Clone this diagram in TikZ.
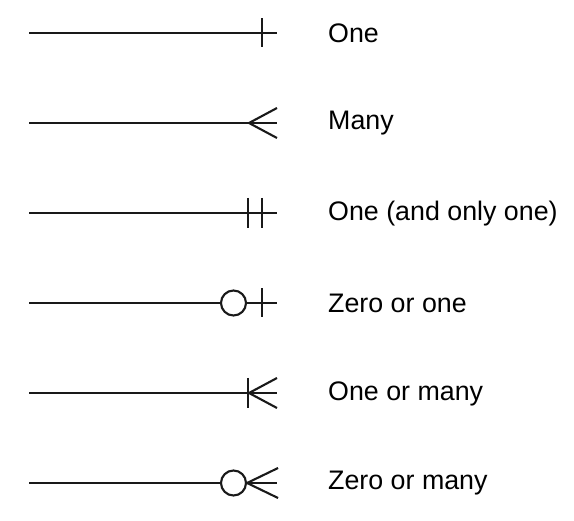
\documentclass[tikz,border=0pt]{standalone}
\usepackage{fontspec}
\setmainfont{Liberation Sans}
\begin{document}
\begin{tikzpicture}[x=1pt,y=-1pt,
  conn/.style={line width=2.1pt,black!90},
  lbl/.style={anchor=west,inner sep=0pt,font=\fontsize{26.8}{31}\selectfont},
  ring/.style={circle,draw,line width=2.1pt,inner sep=0pt,minimum size=25pt,black!90}]
\useasboundingbox (0,0) rectangle (574,521);
\foreach \i/\y in {1/33,2/123,3/213,4/303,5/393,6/483}{
  \coordinate (s\i) at (29,\y);
  \coordinate (e\i) at (277,\y);
}
% Row 1: One
\draw[conn] (s1) -- (e1);
\draw[conn] (262,18.5) -- (262,47.5);
\node[lbl] (l1) at (328,33.5) {One};
% Row 2: Many
\coordinate (a2) at (249,123);
\draw[conn] (s2) -- (e2);
\draw[conn] ([shift={(28,-15)}]a2) -- (a2) -- ([shift={(28,15)}]a2);
\node[lbl] (l2) at (328,123.5) {Many};
% Row 3: One and only one
\draw[conn] (s3) -- (e3);
\draw[conn] (248,198) -- (248,228);
\draw[conn] (262,198) -- (262,228);
\node[lbl] (l3) at (328,213.5) {One (and only one)};
% Row 4: Zero or one
\node[ring] (c4) at (233.5,303) {};
\draw[conn] (s4) -- (c4.west);
\draw[conn] (c4.east) -- (e4);
\draw[conn] (262,288.5) -- (262,317.5);
\node[lbl] (l4) at (328,303.5) {Zero or one};
% Row 5: One or many
\coordinate (a5) at (249,393);
\draw[conn] (s5) -- (e5);
\draw[conn] (248,378) -- (248,408);
\draw[conn] ([shift={(28,-15)}]a5) -- (a5) -- ([shift={(28,15)}]a5);
\node[lbl] (l5) at (328,393.5) {One or many};
% Row 6: Zero or many
\node[ring] (c6) at (233.5,483) {};
\coordinate (a6) at (c6.east);
\draw[conn] (s6) -- (c6.west);
\draw[conn] (c6.east) -- (e6);
\draw[conn] ([shift={(31,-15)}]a6) -- (a6) -- ([shift={(31,15)}]a6);
\node[lbl] (l6) at (328,483.5) {Zero or many};
\end{tikzpicture}
\end{document}
